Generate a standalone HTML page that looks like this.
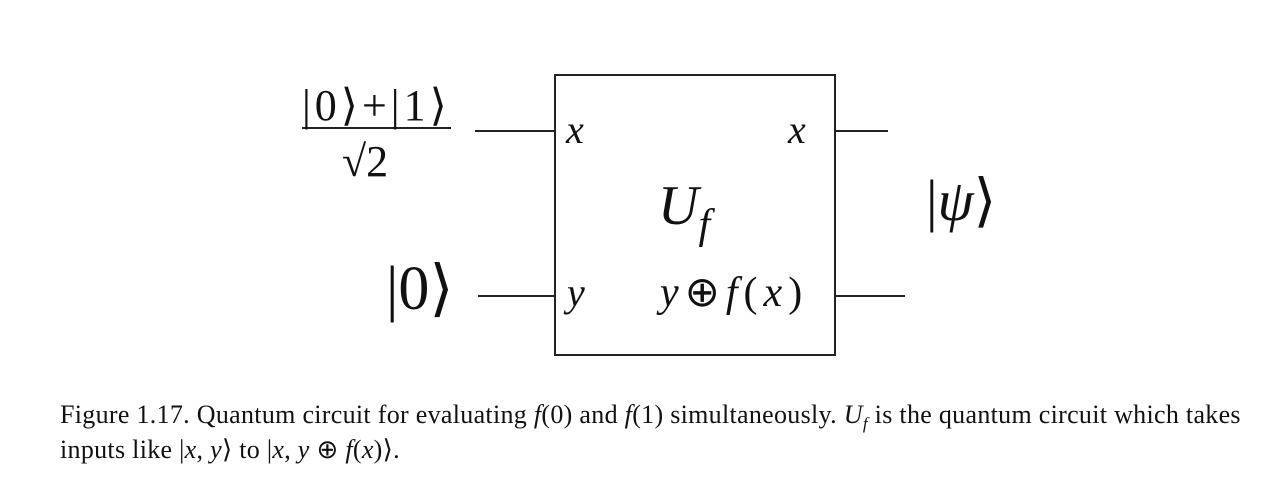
<!DOCTYPE html>
<html><head><style>
body{margin:0;width:1284px;height:494px;background:#fff;position:relative;overflow:hidden;font-family:"Liberation Serif",serif;color:#111}
.t{position:absolute;white-space:nowrap;line-height:1}
i{font-style:italic}
</style></head><body>
<svg width="1284" height="494" style="position:absolute;left:0;top:0">
<g stroke="#222" stroke-width="2" fill="none">
<rect x="555" y="75" width="280" height="280"/>
<line x1="475" y1="131" x2="555" y2="131"/>
<line x1="835" y1="131" x2="888" y2="131"/>
<line x1="478" y1="296" x2="555" y2="296"/>
<line x1="835" y1="296" x2="905" y2="296"/>
<line x1="302" y1="128" x2="451" y2="128"/>
</g>
</svg>
<div class="t" style="left:302px;top:84px;font-size:44px;letter-spacing:4px">|0⟩+|1⟩</div>
<div class="t" style="left:342px;top:140px;font-size:44px">√2</div>
<div class="t" style="left:386px;top:258px;font-size:62px">|0⟩</div>
<div class="t" style="left:566px;top:110px;font-size:40px"><i>x</i></div>
<div class="t" style="left:788px;top:110px;font-size:40px"><i>x</i></div>
<div class="t" style="left:567px;top:273px;font-size:40px"><i>y</i></div>
<div class="t" style="left:660px;top:272px;font-size:42px;letter-spacing:6px"><i>y</i>⊕<i>f</i>(<i>x</i>)</div>
<div class="t" style="left:658px;top:178px;font-size:56px"><i>U</i><i style="font-size:42px;position:relative;top:14px">f</i></div>
<div class="t" style="left:926px;top:172px;font-size:58px">|<i>ψ</i>⟩</div>
<div class="t" style="left:60px;top:402px;font-size:26px;letter-spacing:0.3px">Figure 1.17. Quantum circuit for evaluating <i>f</i>(0) and <i>f</i>(1) simultaneously. <i>U<sub style="font-size:17px">f</sub></i> is the quantum circuit which takes</div>
<div class="t" style="left:60px;top:437px;font-size:26px;letter-spacing:0.3px">inputs like |<i>x</i>, <i>y</i>⟩ to |<i>x</i>, <i>y</i> ⊕ <i>f</i>(<i>x</i>)⟩.</div>
</body></html>
